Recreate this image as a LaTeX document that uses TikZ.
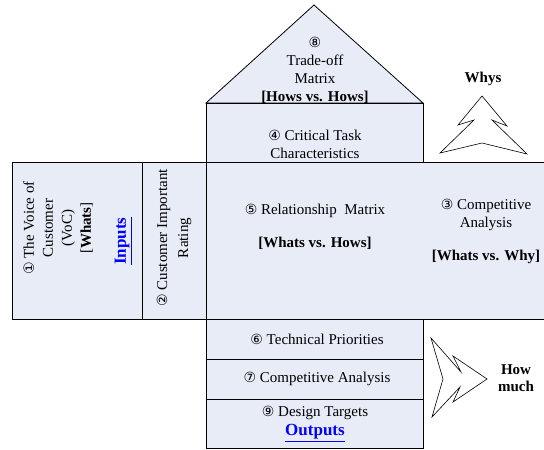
\documentclass[tikz,border=0pt]{standalone}
\usepackage{fontspec}
\setmainfont{Liberation Serif}
\newfontfamily\circfont{DejaVu Sans}
\definecolor{panel}{RGB}{231,236,247}
\newcommand{\cnum}[1]{{\circfont\fontsize{14}{14}\selectfont #1}}
\newcommand{\linky}[1]{\textcolor{blue}{\underline{\textbf{#1}}}}

\begin{document}
\begin{tikzpicture}[x=1pt, y=-1pt,
  every node/.style={align=center, inner sep=0pt, font=\fontsize{15}{18}\selectfont},
  box/.style={fill=panel, draw=black, line width=0.8pt},
  tag/.style={font=\fontsize{15}{17}\selectfont\bfseries},
  big/.style={font=\fontsize{17}{20}\selectfont}]
\useasboundingbox (0,0) rectangle (544,450);

% house
\draw[box] (206,103) -- (314,5) -- (423,103) -- cycle;
\draw[box] (206,103) rectangle (423,162);
\draw[box] (12,162) rectangle (142,319);
\draw[box] (142,162) rectangle (206,319);
\draw[box] (206,162) rectangle (423,319);
\fill[panel] (423,162) rectangle (544,319);
\draw[line width=0.8pt] (423,162) -- (544,162);
\draw[line width=0.8pt] (423,319) -- (544,319);
\draw[box] (206,319) rectangle (423,359);
\draw[box] (206,359) rectangle (423,399);
\draw[box] (206,399) rectangle (423,448);

% texts
\node (roof) at (315,70) {\cnum{⑧}\\Trade-off\\Matrix\\\textbf{[Hows vs. Hows]}};
\node (task) at (315,144) {\cnum{④} Critical Task\\Characteristics};
\node (rel) at (315,211) {\cnum{⑤} Relationship~~Matrix};
\node[tag] (relTag) at (315,243) {[Whats vs. Hows]};
\node (comp) at (486,215) {\cnum{③} Competitive\\Analysis};
\node[tag] (compTag) at (486,257) {[Whats vs. Why]};
\node[rotate=90, font=\fontsize{15}{19}\selectfont] (voc) at (58,228) {\cnum{①} The Voice of\\Customer\\(VoC)\\{[}\textbf{Whats}{]}};
\node[rotate=90, big] (inputs) at (123,241) {\linky{Inputs}};
\node[rotate=90, font=\fontsize{15}{21}\selectfont] (rating) at (174,238) {\cnum{②} Customer Important\\Rating};
\node (tech) at (317,339) {\cnum{⑥} Technical Priorities};
\node (bench) at (317,379) {\cnum{⑦} Competitive Analysis};
\node (target) at (315,413) {\cnum{⑨} Design Targets};
\node[big] (outputs) at (315,433) {\linky{Outputs}};

% side arrows
\node[tag] (whys) at (483,79) {Whys};
\draw[fill=white, line width=0.6pt] (482,96) -- (458,125) -- (474,120) -- (440,153)
  -- (482,143) -- (527,154) -- (492,120) -- (507,126) -- cycle;
\node[tag] (much) at (516,378) {How\\much};
\draw[fill=white, line width=0.6pt] (487,379) -- (453,356) -- (461,372) -- (431,338)
  -- (443,379) -- (432,417) -- (460,387) -- (453,402) -- cycle;
\end{tikzpicture}
\end{document}
